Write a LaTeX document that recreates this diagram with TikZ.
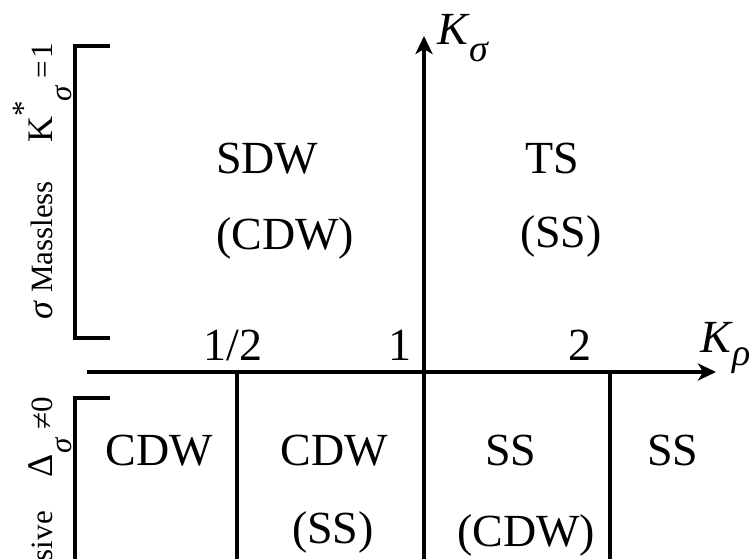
\documentclass[tikz,border=0pt]{standalone}
\usepackage{fontspec}
\setmainfont{Liberation Serif}
\usetikzlibrary{arrows.meta}
\begin{document}
\begin{tikzpicture}[x=1pt,y=-1pt,
  lbl/.style={inner sep=0pt, font=\fontsize{46}{50}\selectfont, anchor=base},
  axisline/.style={line width=3.4pt, -{Stealth[length=18pt,width=17pt,inset=5pt]}},
  divider/.style={line width=3.4pt},
  bracket/.style={line width=4pt},
  side/.style={inner sep=0pt, rotate=90, anchor=base east, font=\fontsize{31}{33}\selectfont}]
\useasboundingbox (0,0) rectangle (750,559);
\clip (0,0) rectangle (750,559);
% axes
\coordinate (xs) at (87,372);
\coordinate (xe) at (716,372);
\coordinate (ys) at (424,565);
\coordinate (ye) at (424,36);
\draw[axisline] (xs) -- (xe);
\draw[axisline] (ys) -- (ye);
% dividers
\coordinate (h1) at (237,372);
\coordinate (h1b) at (237,565);
\coordinate (t1) at (610,372);
\coordinate (t1b) at (610,565);
\draw[divider] (h1) -- (h1b);
\draw[divider] (t1) -- (t1b);
% brackets
\coordinate (ba) at (110,46);
\coordinate (bb) at (75,46);
\coordinate (bc) at (75,338);
\coordinate (bd) at (110,338);
\draw[bracket] (ba) -- (bb) -- (bc) -- (bd);
\coordinate (ca) at (110,398);
\coordinate (cb) at (75,398);
\coordinate (cc) at (75,565);
\draw[bracket] (ca) -- (cb) -- (cc);
% axis labels
\node[lbl, anchor=base west] (ksig) at (437,45) {\textit{K}\raisebox{-17pt}{\fontsize{38}{40}\selectfont\textit{σ}}};
\node[lbl, anchor=base west] (krho) at (700,352) {\textit{K}\raisebox{-13pt}{\fontsize{38}{40}\selectfont\textit{ρ}}};
\node[lbl] (half) at (233,360) {1/2};
\node[lbl] (one) at (400,360) {1};
\node[lbl] (two) at (580,360) {2};
% upper regions
\node[lbl, anchor=base west] (sdw) at (216,174) {SDW};
\node[lbl, anchor=base west] (cdwa) at (216,249) {(CDW)};
\node[lbl] (ts) at (552,174) {TS};
\node[lbl] (ssa) at (561,247) {(SS)};
% lower regions
\node[lbl] (cdwl) at (159,465) {CDW};
\node[lbl] (cdwm) at (334,465) {CDW};
\node[lbl] (ssm) at (333,543) {(SS)};
\node[lbl] (ssr) at (511,465) {SS};
\node[lbl] (cdwr) at (526,546) {(CDW)};
\node[lbl] (ssf) at (673,465) {SS};
% side labels
\node[side] (massless) at (52,43) {{\fontsize{36}{36}\selectfont\textit{σ}} Massless\hspace{38pt}{\fontsize{36}{36}\selectfont K}\raisebox{19pt}{*}\raisebox{-20pt}{\textit{σ}}\hspace{7pt}=\hspace{2pt}1};
\node[side] (massive) at (52,397) {{\fontsize{36}{36}\selectfont\textit{σ}} Massive\hspace{34pt}{\fontsize{36}{36}\selectfont Δ}\raisebox{-20pt}{\textit{σ}}\hspace{8pt}≠0};
\end{tikzpicture}
\end{document}
